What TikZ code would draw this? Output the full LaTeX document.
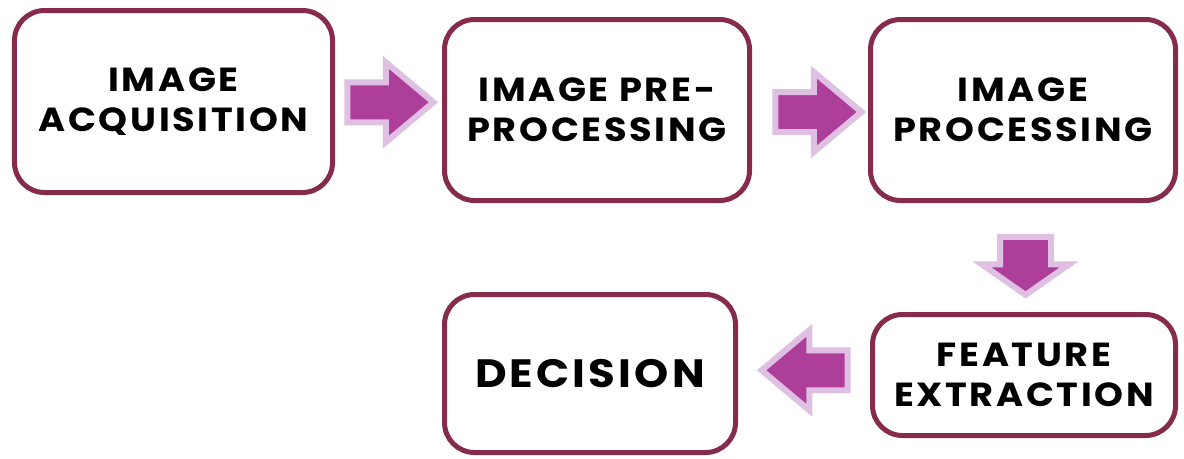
\documentclass[tikz,border=0pt]{standalone}
\usepackage{fontspec}
\setmainfont{Poppins}[LetterSpace=8,FakeStretch=1.1]
\usepackage{tikz}
\definecolor{boxcolor}{RGB}{134,43,76}
\definecolor{arrowfill}{RGB}{173,63,155}
\definecolor{arrowline}{RGB}{223,192,226}
\usetikzlibrary{shapes.arrows,positioning,calc}
\tikzset{
	block/.style={
		rectangle,
		rounded corners=6mm,
		draw=boxcolor,
		line width=1mm,
		fill=white,
		align=center,
		font=\fontsize{19}{22.7}\selectfont\bfseries
	},
	bigarrow/.style={
		single arrow,
		fill=arrowfill,
		draw=arrowline,
		line width=1.2mm,
		line join=miter,
		inner xsep=0pt,
		inner ysep=3.4mm,
		single arrow head extend=4mm,
		single arrow tip angle=80,
		minimum height=17.2mm
	},
	downarrow/.style={
		bigarrow,
		shape border rotate=270,
		inner xsep=4.5mm,
		inner ysep=0pt,
		single arrow head extend=3.6mm,
		single arrow tip angle=110,
		minimum height=11.6mm
	},
}

\begin{document}
\begin{tikzpicture}[x=0.2mm,y=-0.2mm,node distance=85mm,on grid]
	\useasboundingbox (0,0) rectangle (1184,458);
	\node[block,minimum width=63.6mm,minimum height=36.4mm] (acq) at (173.5,101.5) {IMAGE\\ACQUISITION};
	\node[block,minimum width=61mm,minimum height=36.2mm] (pre) [right=of acq,xshift=-0.3mm,yshift=-1.7mm] {IMAGE PRE-\\PROCESSING};
	\node[block,minimum width=61mm,minimum height=36.2mm] (proc) [right=of pre,xshift=0.2mm] {IMAGE\\PROCESSING};
	\node[block,minimum width=60.6mm,minimum height=24.2mm] (feat) [below=53mm of proc,xshift=0.2mm] {FEATURE\\EXTRACTION};
	\node[block,minimum width=58.2mm,minimum height=31.6mm,font=\fontsize{22.5}{27}\selectfont\bfseries] (dec) [left=86.8mm of feat,yshift=0.3mm] {DECISION};
	% block arrows between the steps
	\node[bigarrow] (a1) at ($(acq.east)!0.5!(pre.west)$) [xshift=-2mm,yshift=0.7mm] {};
	\node[bigarrow] (a2) at ($(pre.east)!0.5!(proc.west)$) [xshift=-0.7mm,yshift=-0.4mm] {};
	\node[downarrow] (a3) at ($(proc.south)!0.5!(feat.north)$) [xshift=0.4mm,yshift=0.1mm] {};
	\node[bigarrow,shape border rotate=180] (a4) at ($(feat.west)!0.5!(dec.east)$) [xshift=2.5mm,yshift=0.8mm] {};
\end{tikzpicture}
\end{document}
